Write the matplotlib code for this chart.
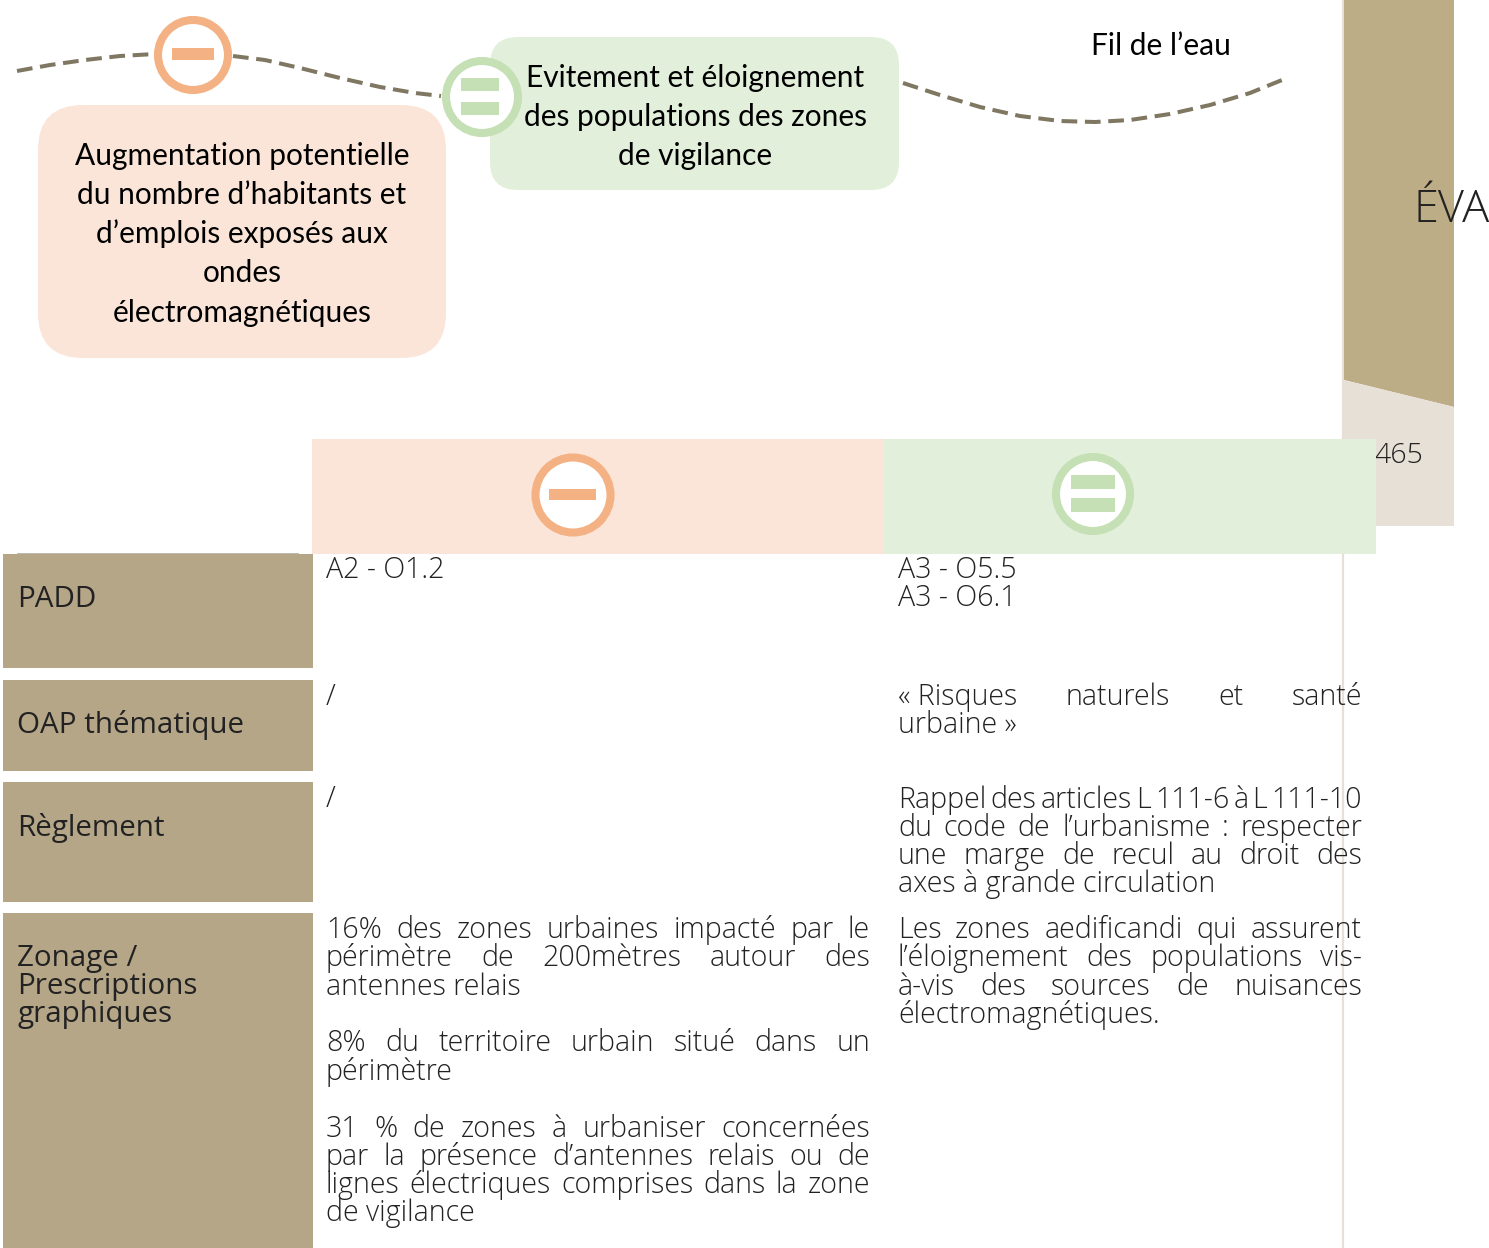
import matplotlib
matplotlib.use("Agg")
import matplotlib.pyplot as plt
from matplotlib.patches import Rectangle, FancyBboxPatch, Circle, Polygon

TAN = '#B5A688'
TAN_TOP = '#BDAD87'
BEIGE = '#E6E0D6'
ROSE = '#FBE5D8'
VERT = '#E2EFDA'
ORANGE = '#F4B183'
VERT_FONCE = '#C5E0B4'
TRAIT = '#7F7761'
CORPS = 'Open Sans'
ENCADRE = 'Lato'

# courbe pointillee du haut, trois morceaux
courbe1_x = [17, 50, 85, 120, 155]
courbe1_y = [71, 65, 60, 56, 54]
courbe2_x = [233, 265, 300, 340, 380, 415, 441]
courbe2_y = [56, 60, 68, 78, 87, 93, 96]
courbe3_x = [903, 940, 980, 1020, 1060, 1095, 1130, 1170, 1210, 1250, 1287]
courbe3_y = [83, 95, 107, 116, 121, 122, 120, 114, 105, 93, 78]

texte_rose = ["Augmentation potentielle", "du nombre d’habitants et",
              "d’emplois exposés aux", "ondes", "électromagnétiques"]
texte_vert = ["Evitement et éloignement", "des populations des zones", "de vigilance"]
titre_scenario = "Fil de l’eau"

lignes_tableau = ["PADD", "OAP thématique", "Règlement",
                  "Zonage /\nPrescriptions\ngraphiques"]
lignes_y = [(554, 668), (680, 771), (782, 902), (913, 1248)]
lignes_base = [607, 733, 836, 966]

# (ligne de base, texte, justifie ou non)
colonne_moins = [
    (578, "A2 - O1.2", False),
    (705, "/", False),
    (807, "/", False),
    (938, "16% des zones urbaines impacté par le", True),
    (966, "périmètre de 200mètres autour des", True),
    (995, "antennes relais", False),
    (1051, "8% du territoire urbain situé dans un", True),
    (1080, "périmètre", False),
    (1137, "31 % de zones à urbaniser concernées", True),
    (1165, "par la présence d’antennes relais ou de", True),
    (1193, "lignes électriques comprises dans la zone", True),
    (1221, "de vigilance", False),
]
colonne_egal = [
    (578, "A3 - O5.5", False),
    (606, "A3 - O6.1", False),
    (705, "«\u00a0Risques naturels et santé", True),
    (733, "urbaine\u00a0»", False),
    (808, "Rappel des articles L 111-6 à L 111-10", True),
    (836, "du code de l’urbanisme : respecter", True),
    (864, "une marge de recul au droit des", True),
    (892, "axes à grande circulation", False),
    (938, "Les zones aedificandi qui assurent", True),
    (966, "l’éloignement des populations vis-", True),
    (995, "à-vis des sources de nuisances", True),
    (1023, "électromagnétiques.", False),
]


def icone(ax, cx, cy, r, couleur, barres):
    ax.add_patch(Circle((cx, cy), r, fc='white', ec=couleur, lw=5.8, zorder=5))
    for x0, x1, y0, y1 in barres:
        ax.add_patch(Rectangle((x0, y0), x1 - x0, y1 - y0, fc=couleur, ec='none', zorder=6))


def ecrire_colonne(fig, ax, lignes, x0, x1, taille):
    renderer = fig.canvas.get_renderer()
    for y, txt, justifie in lignes:
        if not justifie:
            ax.text(x0, y, txt, fontsize=taille, family=CORPS, weight='light',
                    color='#222222', va='baseline', zorder=8)
            continue
        mots = []
        for m in txt.split(' '):
            t = ax.text(x0, y, m, fontsize=taille, family=CORPS, weight='light',
                        color='#222222', va='baseline', zorder=8)
            mots.append((t, t.get_window_extent(renderer).width))
        blanc = (x1 - x0 - sum(w for _, w in mots)) / (len(mots) - 1)
        x = x0
        for t, w in mots:
            t.set_x(x)
            x += w + blanc


fig = plt.figure(figsize=(14.89, 12.48), dpi=100)
ax = fig.add_axes([0, 0, 1, 1])
ax.set_xlim(0, 1489)
ax.set_ylim(1248, 0)
ax.axis('off')

# bandeau de droite
ax.plot([1343, 1343], [0, 1248], color=BEIGE, lw=1.6, zorder=1)
ax.add_patch(Polygon([(1344, 0), (1454, 0), (1454, 407), (1344, 380)], fc=TAN_TOP, ec='none', zorder=2))
ax.add_patch(Polygon([(1343, 380), (1454, 407), (1454, 526), (1343, 526)], fc=BEIGE, ec='none', zorder=2))
ax.text(1413, 222, "ÉVA", fontsize=32.5, family=CORPS, weight='light', color='#222222',
        va='baseline', zorder=3, clip_on=False)
ax.text(1374, 463, "465", fontsize=20.5, family=CORPS, weight='light', color='#222222',
        va='baseline', zorder=3)

# courbe
for cx, cy in [(courbe1_x, courbe1_y), (courbe2_x, courbe2_y), (courbe3_x, courbe3_y)]:
    ax.plot(cx, cy, color=TRAIT, lw=2.9, ls=(0, (3.9, 1.9)), dash_capstyle='butt',
            solid_joinstyle='round', zorder=3)

# encadres
ax.add_patch(FancyBboxPatch((38 + 45, 105 + 45), 408 - 90, 253 - 90,
                            boxstyle="round,pad=45,rounding_size=45", fc=ROSE, ec='none', zorder=3))
ax.add_patch(FancyBboxPatch((490 + 28, 37 + 28), 409 - 56, 153 - 56,
                            boxstyle="round,pad=28,rounding_size=28", fc=VERT, ec='none', zorder=3))
for y, l in zip([165, 204, 243, 282, 322], texte_rose):
    ax.text(242, y, l, fontsize=21.5, family=ENCADRE, color='black', ha='center', va='baseline', zorder=8)
for y, l in zip([87, 126, 165], texte_vert):
    ax.text(695, y, l, fontsize=21.5, family=ENCADRE, color='black', ha='center', va='baseline', zorder=8)
ax.text(1161, 55, titre_scenario, fontsize=21.5, family=ENCADRE, color='black', ha='center',
        va='baseline', zorder=8)

# icones du haut
icone(ax, 193, 55, 35, ORANGE, [(172, 214, 48, 60)])
icone(ax, 482, 97, 36, VERT_FONCE, [(461, 499, 78, 91), (461, 499, 102, 115)])

# en-tete du tableau
ax.add_patch(Rectangle((312, 439), 571, 115, fc=ROSE, ec='none', zorder=4))
ax.add_patch(Rectangle((883, 439), 493, 115, fc=VERT, ec='none', zorder=4))
icone(ax, 573, 495, 37.5, ORANGE, [(549, 596, 489, 500)])
icone(ax, 1093, 494, 37, VERT_FONCE, [(1071, 1115, 475, 489), (1071, 1115, 498, 512)])

# colonne de gauche
ax.plot([17, 298], [553, 553], color=TRAIT, lw=0.6, alpha=0.6, zorder=4)
for (y0, y1), nom, base in zip(lignes_y, lignes_tableau, lignes_base):
    ax.add_patch(Rectangle((3, y0), 310, y1 - y0, fc=TAN, ec='none', zorder=4))
    for i, morceau in enumerate(nom.split('\n')):
        ax.text(17, base + i * 28.2, morceau, fontsize=21.3, family=CORPS, color='#222222',
                va='baseline', zorder=8)

fig.canvas.draw()
ecrire_colonne(fig, ax, colonne_moins, 326, 870, 20.6)
ecrire_colonne(fig, ax, colonne_egal, 898, 1362, 20.6)

fig.savefig('out.png', dpi=100, facecolor='white')
